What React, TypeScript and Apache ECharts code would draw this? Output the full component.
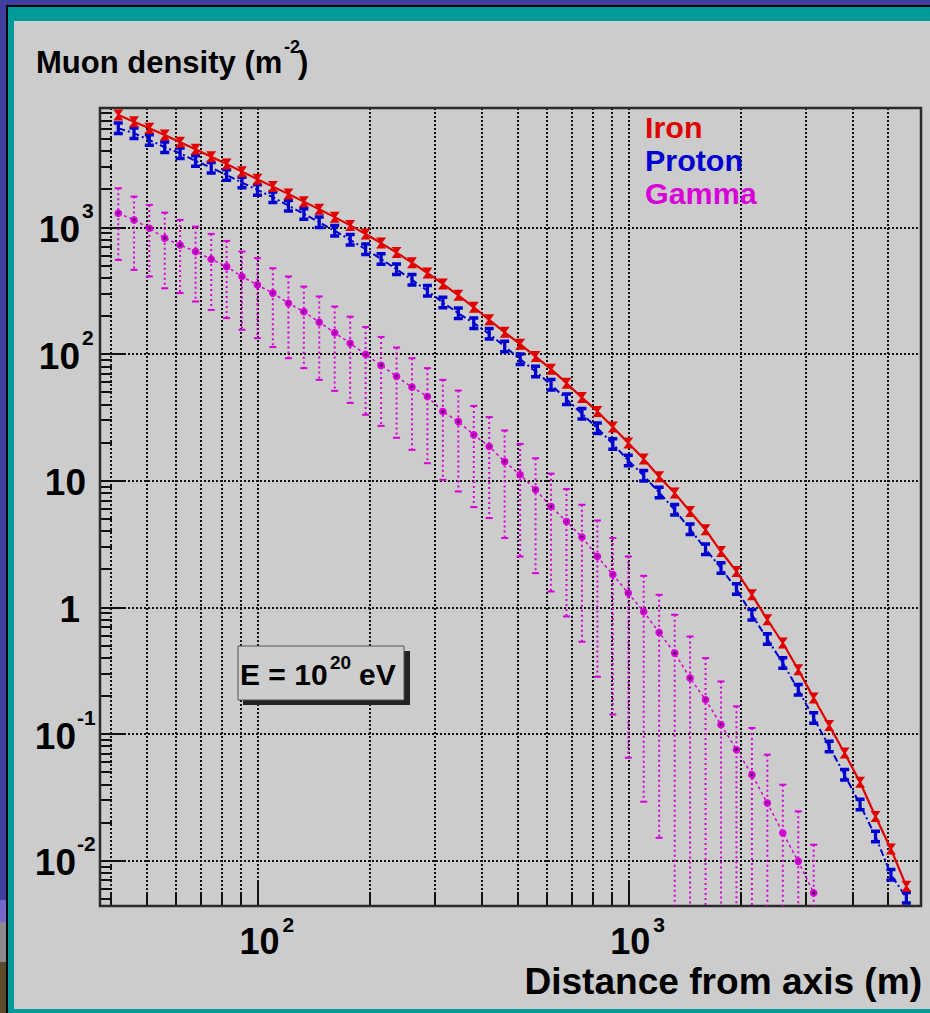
import React, { useEffect, useRef } from 'react';
import * as echarts from 'echarts';

// ---------------- data ----------------
const distance = [41.9, 46.2, 50.8, 55.9, 61.5, 67.7, 74.6, 82.1, 90.3, 99.4, 109.4, 120.5, 132.6, 145.9, 160.6, 176.8, 194.6, 214.2, 235.8, 259.5, 285.6, 314.4, 346.0, 380.9, 419.2, 461.4, 507.9, 559.0, 615.3, 677.3, 745.5, 820.5, 903.1, 994.1, 1094, 1204, 1326, 1459, 1606, 1768, 1946, 2142, 2357, 2595, 2856, 3143, 3460, 3808, 4192, 4614, 5078, 5589];

const iron = [7754, 6864, 6087, 5391, 4721, 4157, 3634, 3184, 2767, 2410, 2107, 1845, 1604, 1397, 1210, 1041, 890, 755, 635, 529, 438, 359, 292, 235, 187, 149, 120, 95.9, 76.3, 59.1, 45.5, 35.3, 26.6, 19.9, 14.9, 10.8, 8.01, 5.73, 4.11, 2.77, 1.93, 1.26, 0.801, 0.525, 0.323, 0.193, 0.117, 0.0711, 0.0417, 0.0224, 0.0124, 0.00629];

const proton = [6087, 5561, 4923, 4311, 3866, 3361, 2976, 2605, 2266, 1984, 1738, 1491, 1283, 1103, 944, 801, 675, 565, 469, 387, 317, 256, 211, 176, 145, 115, 91.5, 73.0, 57.4, 44.2, 33.9, 26.1, 19.6, 14.5, 11.0, 8.10, 5.91, 4.16, 2.89, 2.05, 1.40, 0.877, 0.564, 0.365, 0.224, 0.134, 0.0801, 0.0479, 0.0278, 0.0156, 0.00778, 0.00512];

const gamma = [1299, 1150, 989, 825, 730, 647, 563, 492, 411, 353, 304, 253, 217, 179, 148, 122, 99.8, 81.7, 66.9, 55.0, 46.4, 35.3, 29.4, 23.1, 18.7, 14.2, 11.2, 8.51, 6.28, 4.78, 3.60, 2.53, 1.82, 1.30, 0.926, 0.636, 0.437, 0.278, 0.187, 0.119, 0.0754, 0.0479, 0.0286, 0.0166, 0.00991, 0.00558];

const gammaHigh = [2046, 1757, 1511, 1313, 1150, 1018, 892, 785, 647, 574, 478, 411, 342, 286, 238, 198, 164, 137, 113, 93.1, 77.7, 62.8, 51.7, 39.1, 31.9, 25.0, 19.6, 15.1, 11.4, 8.62, 6.48, 4.87, 3.54, 2.53, 1.78, 1.26, 0.877, 0.591, 0.399, 0.261, 0.166, 0.112, 0.0689, 0.0399, 0.0246, 0.0134];

// null = lower end of the bar runs below the bottom of the frame
const gammaLow: (number | null)[] = [556, 464, 411, 332, 304, 261, 224, 193, 156, 134, 114, 93.1, 77.7, 62.8, 51.4, 41.3, 33.3, 27.2, 21.9, 17.6, 13.8, 10.2, 8.25, 6.21, 5.09, 3.54, 2.53, 1.87, 1.34, 0.851, 0.537, 0.284, 0.143, 0.0652, 0.0293, 0.0152, null, null, null, null, null, null, null, null, null, null];

const xGridValues = [40, 50, 60, 70, 80, 90, 100, 200, 300, 400, 500, 600, 700, 800, 900, 1000, 2000, 3000, 4000, 5000];
const xMajorValues = [100, 1000];
const xLabelExponents = [2, 3];
const yLabelExponents = [-2, -1, 0, 1, 2, 3];
const legendNames = ['Iron', 'Proton', 'Gamma'];

const X_MIN = 37.4, X_MAX = 6120, Y_MIN = 0.0044, Y_MAX = 8800;

// ---------------- styles ----------------
const FONT = '"Liberation Sans", Arial, Helvetica, sans-serif';
const RED = '#e00000';
const BLUE = '#0000d0';
const MAGENTA = '#d800d8';
const INK = '#111111';
const legendColors = [RED, BLUE, MAGENTA];

function renderFrame(params: any, api: any) {
  const cs = params.coordSys;
  const L = cs.x, T = cs.y, R = cs.x + cs.width, B = cs.y + cs.height;
  const kids: any[] = [];
  const dotted = { stroke: INK, lineWidth: 2, lineDash: [2, 2] };
  const solid = { stroke: INK, lineWidth: 2 };
  xGridValues.forEach((v) => {
    const px = Math.round(api.coord([v, Y_MIN])[0]);
    kids.push({ type: 'line', shape: { x1: px, y1: T, x2: px, y2: B }, style: dotted });
    const len = xMajorValues.indexOf(v) >= 0 ? 26 : 13;
    kids.push({ type: 'line', shape: { x1: px, y1: B, x2: px, y2: B - len }, style: solid });
  });
  yLabelExponents.forEach((n) => {
    const py = Math.round(api.coord([X_MIN, Math.pow(10, n)])[1]);
    kids.push({ type: 'line', shape: { x1: L, y1: py, x2: R, y2: py }, style: dotted });
    kids.push({ type: 'line', shape: { x1: L, y1: py, x2: L + 24, y2: py }, style: solid });
  });
  for (let e = -3; e <= 3; e++) {
    for (let m = 2; m <= 9; m++) {
      const v = m * Math.pow(10, e);
      if (v < Y_MIN || v > Y_MAX) continue;
      const py = Math.round(api.coord([X_MIN, v])[1]);
      kids.push({ type: 'line', shape: { x1: L, y1: py, x2: L + 12, y2: py }, style: solid });
    }
  }
  const big = `bold 37px ${FONT}`;
  const bigX = `bold 36px ${FONT}`;
  const sup = `bold 21px ${FONT}`;
  yLabelExponents.forEach((n) => {
    const py = api.coord([X_MIN, Math.pow(10, n)])[1];
    if (n === 0) {
      kids.push({ type: 'text', x: 80, y: py + 2, style: { text: '1', font: big, fill: '#000', align: 'right', verticalAlign: 'middle' } });
    } else if (n === 1) {
      kids.push({ type: 'text', x: 86, y: py + 2, style: { text: '10', font: big, fill: '#000', align: 'right', verticalAlign: 'middle' } });
    } else {
      const neg = n < 0;
      kids.push({ type: 'text', x: neg ? 76 : 80, y: py + 2, style: { text: '10', font: big, fill: '#000', align: 'right', verticalAlign: 'middle' } });
      kids.push({ type: 'text', x: neg ? 77 : 82, y: py - 17, style: { text: String(n), font: sup, fill: '#000', align: 'left', verticalAlign: 'middle' } });
    }
  });
  xLabelExponents.forEach((n) => {
    const px = api.coord([Math.pow(10, n), Y_MIN])[0];
    kids.push({ type: 'text', x: px + 1, y: B + 35, style: { text: '10', font: bigX, fill: '#000', align: 'center', verticalAlign: 'middle' } });
    kids.push({ type: 'text', x: px + 24, y: B + 18, style: { text: String(n), font: sup, fill: '#000', align: 'left', verticalAlign: 'middle' } });
  });
  kids.push({ type: 'rect', shape: { x: L, y: T, width: R - L, height: B - T }, style: { fill: 'none', stroke: '#2a2a2a', lineWidth: 2.5 } });
  return { type: 'group', children: kids };
}

function renderGammaBars(params: any, api: any) {
  const cs = params.coordSys;
  const B = cs.y + cs.height;
  const x = api.value(0);
  const lo = api.value(1);
  const hi = api.value(2);
  const y = api.value(3);
  const pHi = api.coord([x, hi]);
  const pMid = api.coord([x, y]);
  const clipped = !(lo > 0);
  const yLo = clipped ? B : Math.min(api.coord([x, lo])[1], B);
  const px = pHi[0];
  const barStyle = { stroke: MAGENTA, lineWidth: 2, lineDash: [2, 3] };
  const capStyle = { stroke: MAGENTA, lineWidth: 2 };
  const kids: any[] = [
    { type: 'line', shape: { x1: px, y1: pHi[1], x2: px, y2: yLo }, style: barStyle },
    { type: 'line', shape: { x1: px - 3.5, y1: pHi[1], x2: px + 3.5, y2: pHi[1] }, style: capStyle },
  ];
  if (!clipped && yLo < B) {
    kids.push({ type: 'line', shape: { x1: px - 3.5, y1: yLo, x2: px + 3.5, y2: yLo }, style: capStyle });
  }
  kids.push({ type: 'circle', shape: { cx: pMid[0], cy: pMid[1], r: 3.8 }, style: { fill: MAGENTA } });
  kids.push({ type: 'circle', shape: { cx: pMid[0], cy: pMid[1], r: 1.6 }, style: { fill: '#5a005a' } });
  return { type: 'group', children: kids };
}

function buildOption(): any {
  const ironData = distance.map((d, i) => [d, iron[i]]);
  const protonData = distance.map((d, i) => [d, proton[i]]);
  const gammaData = gamma.map((g, i) => [distance[i], g]);
  const gammaBarData = gamma.map((g, i) => [distance[i], gammaLow[i] ?? 0, gammaHigh[i], g]);

  const bg: any[] = [
    { type: 'rect', z: 0, shape: { x: 6, y: 5, width: 924, height: 1008 }, style: { fill: '#050505' } },
    { type: 'rect', z: 0, shape: { x: 8, y: 7, width: 922, height: 1006 }, style: { fill: '#009a9a' } },
    { type: 'rect', z: 0, shape: { x: 14, y: 21, width: 916, height: 988 }, style: { fill: '#cccccc' } },
    { type: 'rect', z: 0, shape: { x: 0, y: 900, width: 6, height: 22 }, style: { fill: '#7466cc' } },
    { type: 'rect', z: 0, shape: { x: 0, y: 922, width: 6, height: 40 }, style: { fill: '#8a8a8a' } },
    { type: 'rect', z: 0, shape: { x: 0, y: 962, width: 6, height: 51 }, style: { fill: '#5c4a2c' } },
  ];
  const legendFont = `bold 29px ${FONT}`;

  const texts: any[] = [
    { type: 'text', z: 10, x: 36, y: 62, style: { text: 'Muon density (m', font: `bold 31px ${FONT}`, fill: '#000', verticalAlign: 'middle' } },
    { type: 'text', z: 10, x: 284, y: 47, style: { text: '-2', font: `bold 18px ${FONT}`, fill: '#000', verticalAlign: 'middle' } },
    { type: 'text', z: 10, x: 298, y: 62, style: { text: ')', font: `bold 31px ${FONT}`, fill: '#000', verticalAlign: 'middle' } },
    { type: 'text', z: 10, x: 922, y: 982, scaleX: 1.03, style: { text: 'Distance from axis (m)', font: `bold 36px ${FONT}`, fill: '#000', align: 'right', verticalAlign: 'middle' } },
    // energy box
    { type: 'rect', z: 10, shape: { x: 243, y: 651, width: 167, height: 54 }, style: { fill: '#222' } },
    { type: 'rect', z: 11, shape: { x: 238, y: 646, width: 166, height: 54 }, style: { fill: '#cdcdcd', stroke: '#555', lineWidth: 1 } },
    { type: 'text', z: 12, x: 240, y: 674, style: { text: 'E = 10', font: `bold 30px ${FONT}`, fill: '#000', align: 'left', verticalAlign: 'middle' } },
    { type: 'text', z: 12, x: 330, y: 662, style: { text: '20', font: `bold 19px ${FONT}`, fill: '#000', align: 'left', verticalAlign: 'middle' } },
    { type: 'text', z: 12, x: 359, y: 674, style: { text: 'eV', font: `bold 30px ${FONT}`, fill: '#000', align: 'left', verticalAlign: 'middle' } },
  ];
  legendNames.forEach((name, i) => {
    texts.push({
      type: 'text', z: 10, x: 645, y: 128 + i * 33, scaleX: 1.05,
      style: { text: name, font: legendFont, fill: legendColors[i], align: 'left', verticalAlign: 'middle' },
    });
  });

  return {
    animation: false,
    backgroundColor: '#3f3fa0',
    grid: { left: 100, right: 9, top: 108, bottom: 107, containLabel: false, outerBoundsMode: 'none' },
    xAxis: {
      type: 'log', logBase: 10, min: X_MIN, max: X_MAX,
      axisLine: { show: false }, axisTick: { show: false }, axisLabel: { show: false }, splitLine: { show: false },
    },
    yAxis: {
      type: 'log', logBase: 10, min: Y_MIN, max: Y_MAX,
      axisLine: { show: false }, axisTick: { show: false }, axisLabel: { show: false }, splitLine: { show: false },
    },
    graphic: { elements: [...bg, ...texts] },
    series: [
      { type: 'custom', name: 'frame', z: 1, data: [[100, 1]], renderItem: renderFrame, silent: true },
      { type: 'custom', name: 'Gamma bars', z: 2, data: gammaBarData, renderItem: renderGammaBars, silent: true, encode: { x: 0, y: 3 } },
      {
        type: 'line', name: 'Gamma', z: 3, data: gammaData, symbol: 'none',
        lineStyle: { color: MAGENTA, width: 1.5, type: [3, 3] },
      },
      {
        type: 'line', name: 'Proton', z: 4, data: protonData,
        symbol: 'path://M0,0H10V3.5H6.8V10.5H10V14H0V10.5H3.2V3.5H0Z', symbolSize: [9, 14],
        itemStyle: { color: BLUE }, lineStyle: { color: BLUE, width: 2, type: [7, 3, 2, 3] },
      },
      {
        type: 'line', name: 'Iron', z: 5, data: ironData,
        symbol: 'path://M0,0H10L6,5L10,10H0L4,5Z', symbolSize: [10, 11],
        itemStyle: { color: RED }, lineStyle: { color: RED, width: 2.2 },
      },
    ],
  };
}

export default function App() {
  const ref = useRef<HTMLDivElement>(null);
  useEffect(() => {
    if (!ref.current) return;
    const chart = echarts.init(ref.current, null, { renderer: 'svg' });
    chart.setOption(buildOption());
    return () => chart.dispose();
  }, []);
  return <div ref={ref} style={{ position: 'absolute', left: 0, top: 0, width: 930, height: 1013 }} />;
}
